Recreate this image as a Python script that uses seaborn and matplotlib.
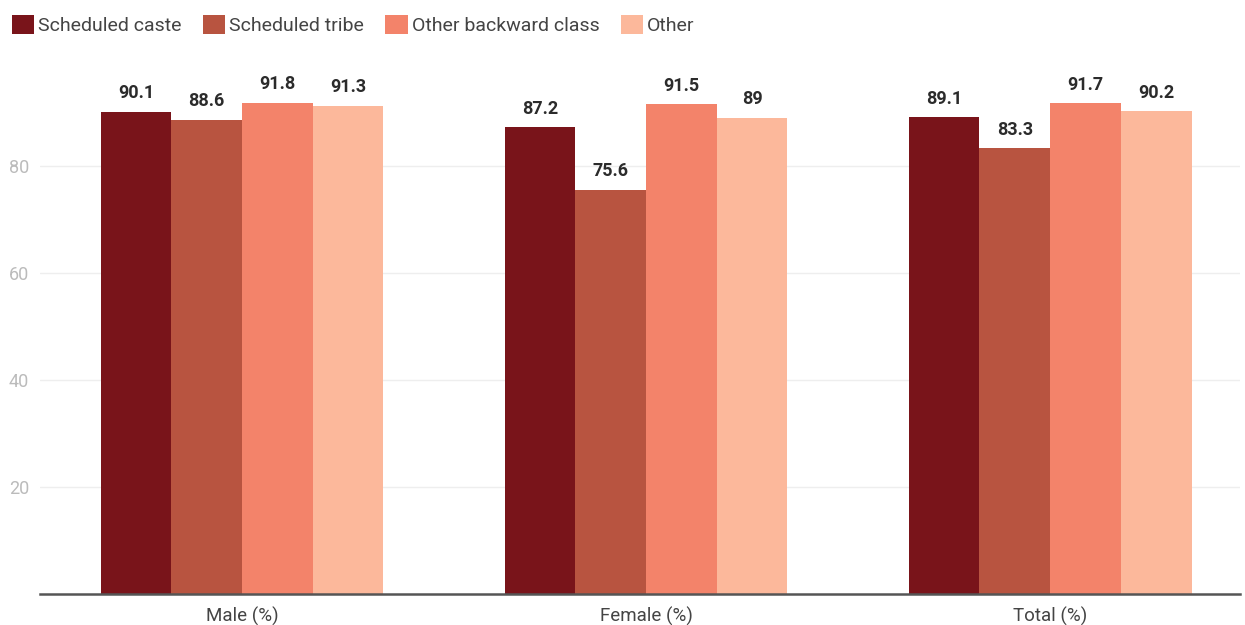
import matplotlib
matplotlib.use("Agg")
import matplotlib.pyplot as plt
import seaborn as sns
import pandas as pd
from matplotlib.patches import Patch

groups = ["Male (%)", "Female (%)", "Total (%)"]
series = ["Scheduled caste", "Scheduled tribe", "Other backward class", "Other"]
sc = [90.1, 87.2, 89.1]
st = [88.6, 75.6, 83.3]
obc = [91.8, 91.5, 91.7]
other = [91.3, 89, 90.2]
colors = ["#79141A", "#B85440", "#F3836A", "#FCB89B"]
yticks = [20, 40, 60, 80]

rows = []
for name, vals in zip(series, [sc, st, obc, other]):
    for g, v in zip(groups, vals):
        rows.append({"group": g, "series": name, "value": v})
df = pd.DataFrame(rows)

sns.set_style("white")
plt.rcParams["font.family"] = ["Roboto", "DejaVu Sans"]

fig = plt.figure(figsize=(12.45, 6.25), dpi=100)
ax = fig.add_axes([40 / 1245, 31 / 625, 1200 / 1245, 535 / 625])

sns.barplot(data=df, x="group", y="value", hue="series", order=groups,
            hue_order=series, palette=colors, width=0.7, gap=0,
            saturation=1, ax=ax, legend=False, linewidth=0)

for cont in ax.containers:
    labels = [f"{v:g}" for v in cont.datavalues]
    ax.bar_label(cont, labels=labels, padding=7, fontsize=13,
                 fontweight="bold", color="#2b2b2b")

ax.set_xlim(-0.5, 2.47)
ax.set_ylim(0, 100)
ax.set_yticks(yticks)
ax.set_yticklabels([str(t) for t in yticks], color="#bbbbbb", fontsize=13)
ax.tick_params(axis="y", length=0, pad=8)
ax.tick_params(axis="x", length=0, pad=9, labelsize=13.5, labelcolor="#444444")
ax.yaxis.grid(True, color="#eeeeee", linewidth=1)
ax.set_axisbelow(True)
for s in ["top", "right", "left"]:
    ax.spines[s].set_visible(False)
ax.spines["bottom"].set_color("#555555")
ax.spines["bottom"].set_linewidth(1.8)
ax.set_xlabel("")
ax.set_ylabel("")

handles = [Patch(facecolor=c, edgecolor="none") for c in colors]
fig.legend(handles, series, loc="upper left", bbox_to_anchor=(0.0, 0.995),
           ncol=4, frameon=False, fontsize=14, handlelength=1.15,
           handleheight=1.15, handletextpad=0.2, columnspacing=1.1,
           labelcolor="#444444", borderaxespad=0.3, borderpad=0.3)

fig.savefig("out.png", dpi=100)
